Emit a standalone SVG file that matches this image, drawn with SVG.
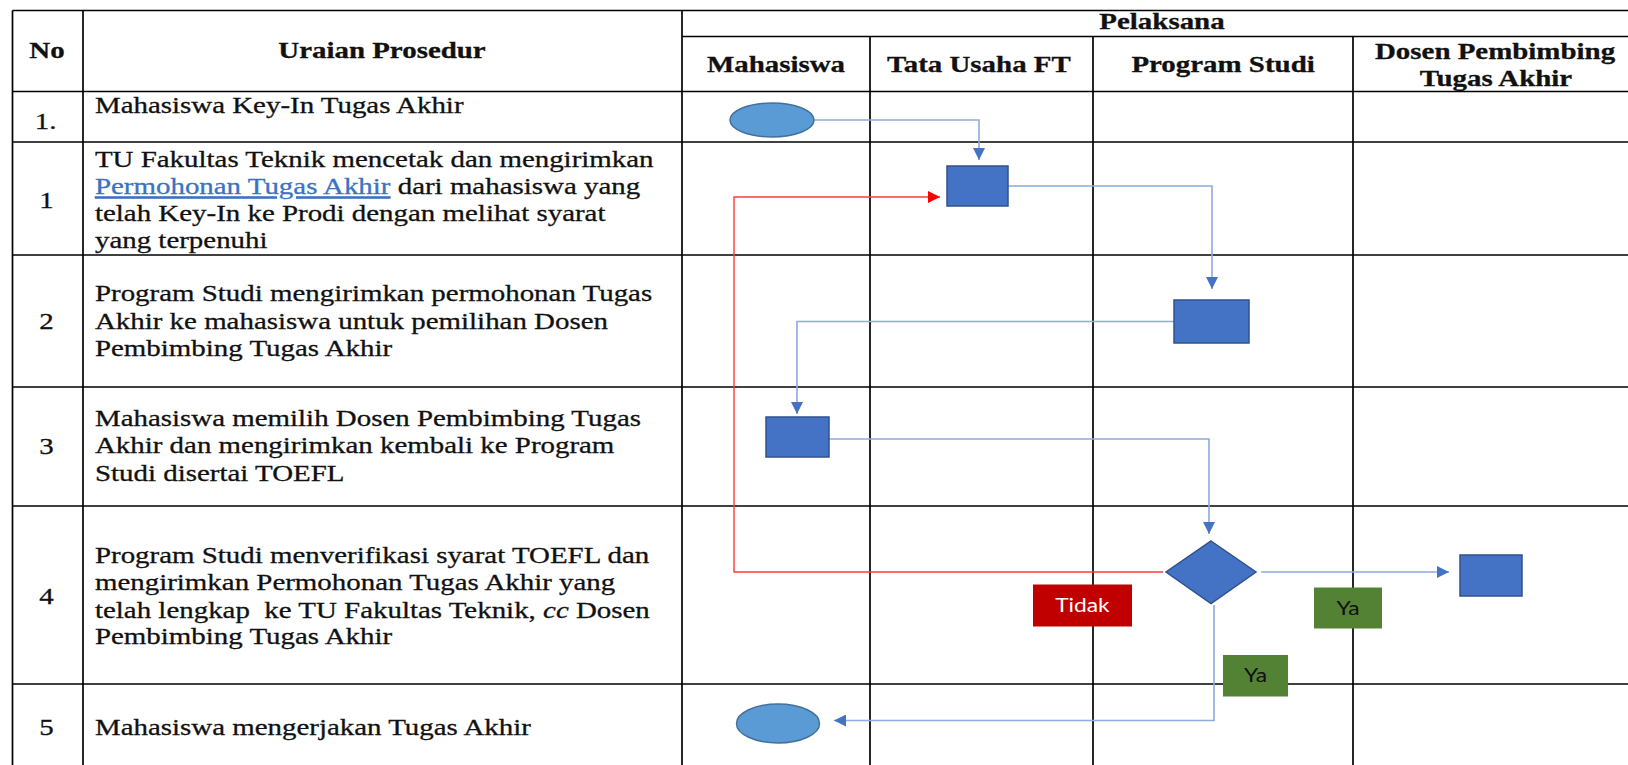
<svg xmlns="http://www.w3.org/2000/svg" width="1628" height="765" viewBox="0 0 1628 765">
<defs>
<style>
.grid{stroke:#000;stroke-width:1.7;fill:none}
.t{font-family:"Liberation Serif","Times New Roman",serif;font-size:24px;fill:#111;stroke:#111;stroke-width:0.3}
.b{font-weight:bold}
.c{text-anchor:middle}
.lbl{font-family:Lato,"Open Sans",sans-serif;font-size:19px;text-anchor:middle}
.box{fill:#4472C4;stroke:#2F528F;stroke-width:1.5}
.ell{fill:#5B9BD5;stroke:#41719C;stroke-width:1.5}
.con{fill:none;stroke:#8FAADC;stroke-width:1.6}
.red{fill:none;stroke:#FF3B3B;stroke-width:1.4}
</style>
<marker id="ab" markerUnits="userSpaceOnUse" markerWidth="12" markerHeight="12" viewBox="0 0 12 12" refX="12" refY="6" orient="auto">
<path d="M0,0 L12,6 L0,12 z" fill="#4472C4"/>
</marker>
<marker id="ar" markerUnits="userSpaceOnUse" markerWidth="12" markerHeight="12" viewBox="0 0 12 12" refX="12" refY="6" orient="auto">
<path d="M0,0 L12,6 L0,12 z" fill="#FF0000"/>
</marker>
</defs>
<rect width="1628" height="765" fill="#fff"/>

<g id="table">
<g class="grid">
<line x1="12.5" y1="10.5" x2="1628" y2="10.5"/>
<line x1="682" y1="36.5" x2="1628" y2="36.5"/>
<line x1="12.5" y1="91.5" x2="1628" y2="91.5"/>
<line x1="12.5" y1="142" x2="1628" y2="142"/>
<line x1="12.5" y1="255" x2="1628" y2="255"/>
<line x1="12.5" y1="387" x2="1628" y2="387"/>
<line x1="12.5" y1="506" x2="1628" y2="506"/>
<line x1="12.5" y1="684" x2="1628" y2="684"/>
<line x1="12.5" y1="10.5" x2="12.5" y2="765"/>
<line x1="83" y1="10.5" x2="83" y2="765"/>
<line x1="682" y1="10.5" x2="682" y2="765"/>
<line x1="870" y1="36.5" x2="870" y2="765"/>
<line x1="1093" y1="36.5" x2="1093" y2="765"/>
<line x1="1353" y1="36.5" x2="1353" y2="765"/>
</g>
<g transform="scale(1.205 1)">
<text class="t b c" x="39" y="58">No</text>
<text class="t b c" x="317" y="58">Uraian Prosedur</text>
<text class="t b c" x="964.3" y="29">Pelaksana</text>
<text class="t b c" x="644" y="72">Mahasiswa</text>
<text class="t b c" x="812.4" y="72">Tata Usaha FT</text>
<text class="t b c" x="1015" y="72">Program Studi</text>
<text class="t b c" x="1240.7" y="59">Dosen Pembimbing</text>
<text class="t b c" x="1241.5" y="86">Tugas Akhir</text>

<text class="t c" x="37.8" y="129">1.</text>
<text class="t" x="78.8" y="113">Mahasiswa Key-In Tugas Akhir</text>

<text class="t c" x="38.6" y="208">1</text>
<text class="t" x="78.8" y="167">TU Fakultas Teknik mencetak dan mengirimkan</text>
<text class="t" x="78.8" y="194.5"><tspan fill="#3A72C4" stroke="#3A72C4" text-decoration="underline">Permohonan Tugas Akhir</tspan> dari mahasiswa yang</text>
<text class="t" x="78.8" y="221.5">telah Key-In ke Prodi dengan melihat syarat</text>
<text class="t" x="78.8" y="248">yang terpenuhi</text>

<text class="t c" x="38.6" y="329">2</text>
<text class="t" x="78.8" y="301.5">Program Studi mengirimkan permohonan Tugas</text>
<text class="t" x="78.8" y="329">Akhir ke mahasiswa untuk pemilihan Dosen</text>
<text class="t" x="78.8" y="356">Pembimbing Tugas Akhir</text>

<text class="t c" x="38.6" y="454">3</text>
<text class="t" x="78.8" y="426">Mahasiswa memilih Dosen Pembimbing Tugas</text>
<text class="t" x="78.8" y="453.5">Akhir dan mengirimkan kembali ke Program</text>
<text class="t" x="78.8" y="481">Studi disertai TOEFL</text>

<text class="t c" x="38.6" y="604">4</text>
<text class="t" x="78.8" y="563.5">Program Studi menverifikasi syarat TOEFL dan</text>
<text class="t" x="78.8" y="590.5">mengirimkan Permohonan Tugas Akhir yang</text>
<text class="t" x="78.8" y="618" xml:space="preserve">telah lengkap  ke TU Fakultas Teknik, <tspan font-style="italic">cc</tspan> Dosen</text>
<text class="t" x="78.8" y="644.5">Pembimbing Tugas Akhir</text>

<text class="t c" x="38.6" y="735">5</text>
<text class="t" x="78.8" y="735">Mahasiswa mengerjakan Tugas Akhir</text>
</g>
</g>

<g id="connectors">
<polyline class="con" points="814,120 979,120 979,160" marker-end="url(#ab)"/>
<polyline class="con" points="1008,186 1212,186 1212,289" marker-end="url(#ab)"/>
<polyline class="con" points="1174,321.5 797,321.5 797,414" marker-end="url(#ab)"/>
<polyline class="con" points="829,439 1209,439 1209,534" marker-end="url(#ab)"/>
<polyline class="red" points="1163,572 734,572 734,197 940,197" marker-end="url(#ar)"/>
<polyline class="con" points="1261,572 1449,572" marker-end="url(#ab)"/>
<polyline class="con" points="1214,605 1214,720.5 834,720.5" marker-end="url(#ab)"/>
</g>

<g id="start"><ellipse class="ell" cx="772" cy="120" rx="42" ry="17"/></g>
<g id="tu-print"><rect class="box" x="947" y="166" width="61" height="40"/></g>
<g id="prodi-send"><rect class="box" x="1174" y="300" width="75" height="43"/></g>
<g id="mhs-choose"><rect class="box" x="766" y="417" width="63" height="40"/></g>
<g id="verify"><polygon class="box" points="1211,541 1256,572 1211,603.5 1166,572"/></g>
<g id="dosen"><rect class="box" x="1460" y="555" width="62" height="41"/></g>
<g id="end"><ellipse class="ell" cx="778" cy="723.5" rx="41.5" ry="19.5"/></g>

<g id="label-tidak">
<rect x="1033" y="584.5" width="99" height="42" fill="#C00000"/>
<text class="lbl" transform="scale(1.2 1)" x="902" y="612" fill="#fff">Tidak</text>
</g>
<g id="label-ya1">
<rect x="1314" y="587.5" width="68" height="41" fill="#548235"/>
<text class="lbl" transform="scale(1.2 1)" x="1123.3" y="615" fill="#111">Ya</text>
</g>
<g id="label-ya2">
<rect x="1223" y="655" width="65" height="41.5" fill="#548235"/>
<text class="lbl" transform="scale(1.2 1)" x="1046.3" y="682.5" fill="#111">Ya</text>
</g>
</svg>
